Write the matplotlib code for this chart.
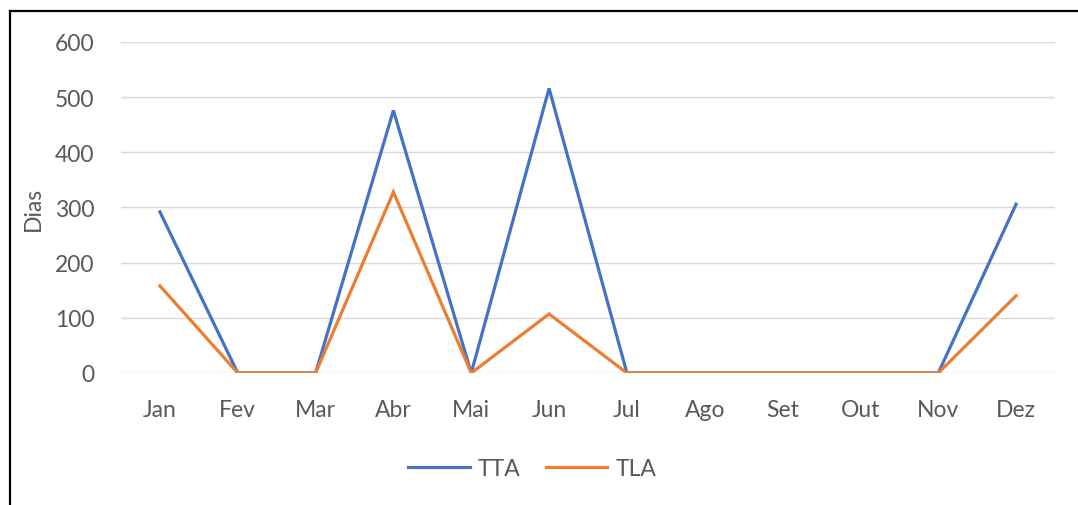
import matplotlib
matplotlib.use("Agg")
import matplotlib.pyplot as plt
from matplotlib.lines import Line2D

months = ["Jan", "Fev", "Mar", "Abr", "Mai", "Jun", "Jul", "Ago", "Set", "Out", "Nov", "Dez"]
tta = [292, 0, 0, 476, 0, 516, 0, 0, 0, 0, 0, 306]
tla = [158, 0, 0, 328, 0, 107, 0, 0, 0, 0, 0, 140]
yticks = [0, 100, 200, 300, 400, 500, 600]

plt.rcParams['font.family'] = ['Lato', 'DejaVu Sans']
text_color = "#595959"
fs = 16.5

fig = plt.figure(figsize=(10.78, 5.06), dpi=100)
ax = fig.add_axes([121/1078, 132/506, 934/1078, 331/506])
x = list(range(len(months)))
ax.plot(x, tta, color="#4472C4", lw=2.3, label="TTA", solid_joinstyle="miter")
ax.plot(x, tla, color="#ED7D31", lw=2.3, label="TLA", solid_joinstyle="miter")
ax.set_xlim(-0.5, len(months) - 0.5)
ax.set_ylim(0, 600)
ax.set_yticks(yticks)
ax.set_xticks(x)
ax.set_xticklabels(months)
ax.grid(axis="y", color="#D9D9D9", lw=1)
ax.set_axisbelow(True)
for s in ax.spines.values():
    s.set_visible(False)
ax.tick_params(axis="both", length=0, colors=text_color, labelsize=fs)
ax.tick_params(axis="y", pad=19)
ax.tick_params(axis="x", pad=18.5)
ax.set_ylabel("Dias", color=text_color, fontsize=fs, labelpad=8)

fig.legend(loc="center", bbox_to_anchor=(532/1078, 1 - 470/506), ncol=2, frameon=False,
           fontsize=fs, labelcolor=text_color, handlelength=2.7, handletextpad=0.35,
           columnspacing=1.1)

fig.add_artist(Line2D([9.5/1078, 1.0], [1 - 12/506, 1 - 12/506], color="black", lw=1.6, transform=fig.transFigure))
fig.add_artist(Line2D([9.5/1078, 9.5/1078], [0.0, 1 - 12/506], color="black", lw=1.6, transform=fig.transFigure))

fig.savefig("out.png", dpi=100, facecolor="white")
